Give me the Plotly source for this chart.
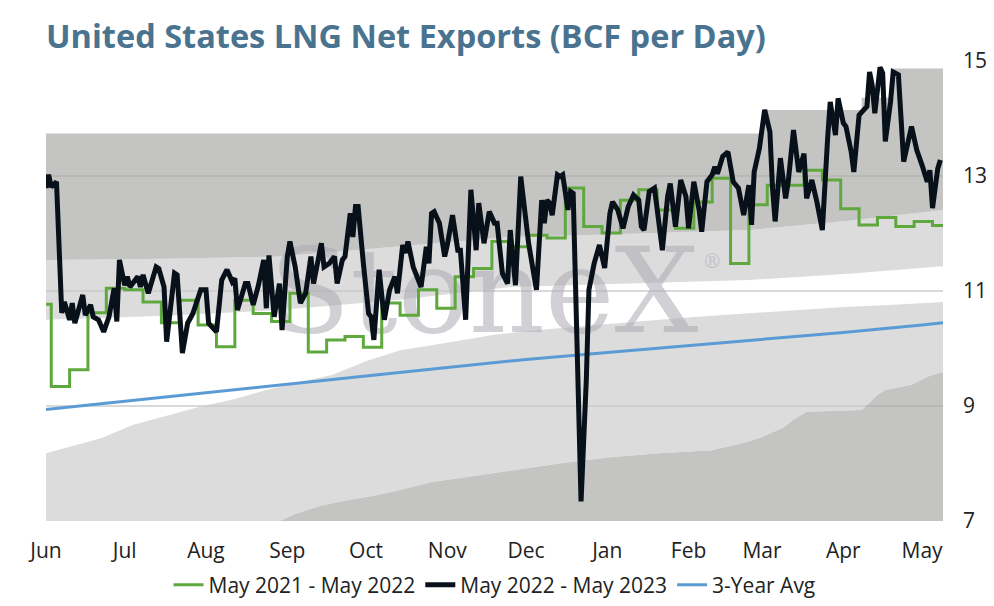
import pandas as pd
import plotly.graph_objects as go

# x positions are days since 1 Jun 2022 (the chart runs Jun -> early May)
start = pd.Timestamp("2022-06-01")
end_day = 342


def to_date(days):
    return [start + pd.Timedelta(days=d) for d in days]


# May 2022 - May 2023, daily (at the turning points)
black_day = [0, 1, 2, 4, 6, 7, 9, 10, 11, 14, 15, 17, 18, 20, 22, 24, 26, 27, 28, 30,
             31, 32, 35, 36, 37, 39, 42, 43, 45, 46, 49, 50, 52, 54, 56, 59, 61, 62, 65, 67,
             69, 71, 72, 73, 76, 77, 79, 81, 83, 84, 85, 87, 89, 90, 92, 93, 95, 97, 99, 101,
             102, 105, 106, 108, 110, 111, 113, 114, 116, 117, 118, 119, 121, 123, 124, 125, 127, 129, 131, 133,
             134, 136, 137, 138, 140, 142, 143, 145, 146, 147, 148, 150, 152, 153, 155, 157, 158, 160, 161, 162,
             164, 165, 167, 169, 171, 172, 174, 176, 177, 179, 181, 183, 184, 187, 189, 190, 191, 192, 193, 195,
             196, 197, 199, 200, 201, 204, 206, 207, 209, 211, 213, 215, 216, 218, 220, 222, 223, 224, 226, 227,
             228, 230, 232, 235, 237, 238, 240, 242, 244, 245, 247, 249, 250, 252, 254, 255, 256, 258, 260, 262,
             264, 266, 268, 269, 270, 272, 274, 276, 277, 278, 280, 282, 283, 285, 287, 289, 290, 292, 294, 296,
             298, 299, 301, 302, 304, 305, 307, 308, 310, 313, 314, 315, 316, 318, 319, 320, 322, 323, 325, 326,
             327, 330, 332, 334, 336, 337, 338, 340, 341]
black_val = [12.79, 13.02, 12.81, 12.90, 10.62, 10.81, 10.50, 10.79, 10.44, 10.93, 10.58, 10.76, 10.55, 10.50, 10.29, 10.55, 11.05, 10.47, 11.54, 11.10,
             11.25, 11.07, 11.25, 11.07, 11.28, 10.96, 11.42, 11.39, 11.07, 10.12, 11.31, 11.28, 9.92, 10.44, 10.61, 11.02, 11.02, 10.44, 10.29, 11.19,
             11.37, 11.16, 11.22, 10.67, 11.13, 11.13, 10.76, 11.10, 11.54, 10.70, 11.62, 10.55, 11.13, 10.32, 11.60, 11.86, 11.42, 10.79, 10.96, 11.60,
             11.13, 11.83, 11.42, 11.48, 11.60, 11.13, 11.54, 11.60, 12.35, 11.94, 12.47, 12.47, 11.48, 10.61, 10.55, 10.15, 11.37, 10.50, 11.02, 11.25,
             10.96, 11.80, 11.66, 11.86, 11.42, 11.22, 11.07, 11.77, 11.48, 12.35, 12.38, 12.18, 11.60, 11.80, 12.32, 11.71, 11.71, 10.50, 11.71, 12.76,
             11.71, 12.53, 11.83, 12.38, 12.18, 12.18, 11.31, 11.13, 12.06, 11.10, 12.99, 12.18, 11.83, 11.02, 12.58, 12.18, 12.58, 12.53, 12.32, 13.02,
             12.99, 13.02, 12.41, 12.73, 12.70, 7.34, 9.45, 11.02, 11.48, 11.80, 11.40, 12.35, 12.55, 12.41, 12.09, 12.47, 12.58, 12.67, 12.58, 12.12,
             12.06, 12.73, 12.79, 11.71, 12.64, 12.87, 12.12, 12.93, 12.64, 12.09, 12.90, 12.41, 12.03, 12.90, 13.02, 13.16, 13.04, 13.34, 13.42, 12.90,
             12.79, 12.32, 12.84, 12.15, 13.07, 13.48, 14.15, 13.77, 12.79, 12.21, 13.31, 12.61, 12.90, 13.80, 13.07, 13.39, 12.61, 12.93, 12.53, 12.06,
             13.65, 14.29, 13.71, 14.35, 13.92, 13.86, 13.42, 13.07, 14.06, 14.21, 14.81, 14.58, 14.09, 14.89, 14.79, 13.60, 14.29, 14.81, 14.76, 13.77,
             13.25, 13.86, 13.45, 13.19, 12.90, 13.10, 12.44, 13.13, 13.28]

# May 2021 - May 2022, weekly values starting 27 May
green_val = [10.77, 9.34, 9.63, 10.62, 11.05, 11.02, 10.81, 10.45, 10.84, 10.41,
             10.03, 10.84, 10.61, 10.47, 10.96, 9.94, 10.15, 10.21, 10.02, 10.79,
             10.58, 11.02, 10.70, 11.25, 11.39, 11.86, 11.77, 11.97, 11.92, 12.79,
             12.12, 12.01, 12.58, 12.76, 12.41, 12.09, 12.55, 12.96, 11.48, 12.50,
             12.84, 12.84, 13.10, 12.93, 12.43, 12.15, 12.28, 12.12, 12.21, 12.14, 12.14]

# 3-year average
avg_day = [0, 30, 61, 92, 122, 153, 183, 214, 245, 273, 304, 334, 342]
avg_val = [8.94, 9.08, 9.23, 9.38, 9.52, 9.67, 9.81, 9.93, 10.05, 10.16, 10.28, 10.41, 10.45]

# range bands behind the lines (boundaries from bottom to top)
c1_day = [0, 89, 95, 105, 115, 125, 135, 147, 160, 171, 184, 197, 215, 234, 254, 266, 273, 281,
          285, 290, 311, 317, 320, 330, 336, 342]
c1_val = [7.0, 7.0, 7.12, 7.27, 7.36, 7.44, 7.54, 7.68, 7.76, 7.83, 7.92, 8.01, 8.11, 8.18, 8.23, 8.36, 8.46, 8.62,
          8.76, 8.90, 8.93, 9.19, 9.28, 9.37, 9.51, 9.59]
c2_day = [0, 10, 21, 33, 45, 59, 72, 84, 97, 109, 122, 135, 150, 171, 190, 209, 228, 247, 266, 285, 304, 323, 342]
c2_val = [8.18, 8.30, 8.44, 8.67, 8.82, 8.99, 9.12, 9.28, 9.42, 9.54, 9.78, 9.97, 10.08, 10.24, 10.33, 10.41,
          10.48, 10.55, 10.61, 10.67, 10.72, 10.76, 10.81]
c3_day = [0, 45, 89, 135, 177, 200, 249, 268, 306, 342]
c3_val = [10.50, 10.57, 10.67, 10.85, 11.07, 11.10, 11.16, 11.19, 11.30, 11.43]
c4_day = [0, 45, 89, 135, 177, 220, 250, 268, 306, 342]
c4_val = [11.54, 11.56, 11.60, 11.78, 11.94, 11.99, 12.03, 12.06, 12.22, 12.41]
c5_day = [0, 273, 311, 323, 342]
c5_val = [13.74, 14.15, 14.36, 14.87, 14.87]

DARK = "rgba(170,169,168,0.69)"
LIGHT = "rgba(200,200,200,0.64)"
FONT = "Open Sans"

fig = go.Figure()

band_kw = dict(mode="lines", hoverinfo="skip", showlegend=False)
fig.add_trace(go.Scatter(x=to_date([0, end_day]), y=[7, 7], line=dict(width=0), **band_kw))
fig.add_trace(go.Scatter(x=to_date(c1_day), y=c1_val, fill="tonexty", fillcolor=DARK,
                         line=dict(width=0), **band_kw))
fig.add_trace(go.Scatter(x=to_date(c2_day), y=c2_val, fill="tonexty", fillcolor=LIGHT,
                         line=dict(width=0), **band_kw))
fig.add_trace(go.Scatter(x=to_date(c3_day), y=c3_val, line=dict(width=0), **band_kw))
fig.add_trace(go.Scatter(x=to_date(c4_day), y=c4_val, fill="tonexty", fillcolor=LIGHT,
                         line=dict(width=0), **band_kw))
fig.add_trace(go.Scatter(x=to_date(c5_day), y=c5_val, fill="tonexty", fillcolor=DARK,
                         line=dict(width=0, shape="hv"), **band_kw))

# watermark sits above the bands but under the data lines
fig.add_trace(go.Scatter(
    x=to_date([167, 254]), y=[10.80, 11.49], mode="text", text=["StoneX", "®"],
    textposition="middle center",
    textfont=dict(family="DejaVu Serif", size=[118, 20], color="rgba(170,170,178,0.55)"),
    hoverinfo="skip", showlegend=False))

fig.add_trace(go.Scatter(x=to_date(avg_day), y=avg_val, mode="lines", name="3-Year Avg",
                         line=dict(color="#5b9bd5", width=3), legendrank=3))
green_dates = pd.date_range("2022-05-27", periods=len(green_val), freq="7D")
fig.add_trace(go.Scatter(x=green_dates, y=green_val, mode="lines", name="May 2021 - May 2022",
                         line=dict(color="#5fa83e", width=3, shape="hv"), legendrank=1))
fig.add_trace(go.Scatter(x=to_date(black_day), y=black_val, mode="lines", name="May 2022 - May 2023",
                         line=dict(color="#08101a", width=5), legendrank=2))

# the page body has an 8px margin, so the figure is a little smaller than the window
fig.update_layout(
    width=978, height=590,
    margin=dict(l=38, r=43, t=53, b=77),
    paper_bgcolor="white", plot_bgcolor="white",
    font=dict(family=FONT, color="#222222", size=21),
    title=dict(text="<b>United States LNG Net Exports (BCF per Day)</b>",
               font=dict(family=FONT, size=32.5, color="#4a7390"),
               xref="paper", x=0, xanchor="left",
               yref="container", y=0.951, yanchor="middle"),
    legend=dict(orientation="h", xref="paper", x=0.5, xanchor="center",
                yref="container", y=0.022, yanchor="middle",
                bgcolor="rgba(0,0,0,0)",
                font=dict(size=21, color="#222222"), traceorder="normal"),
    showlegend=True,
)
fig.update_xaxes(
    range=[start, start + pd.Timedelta(days=end_day)],
    tickformat="%b", dtick="M1", tick0="2022-06-01", ticks="",
    showgrid=False, zeroline=False, showline=False, ticklabelstandoff=15,
    automargin=False,
)
fig.update_yaxes(
    range=[7, 15], side="right", tickvals=[7, 9, 11, 13, 15],
    showgrid=True, gridcolor="#d9d9d9", gridwidth=1.5, zeroline=False,
    ticks="", ticklabelstandoff=19, automargin=False,
)

fig.write_html("out.html")
